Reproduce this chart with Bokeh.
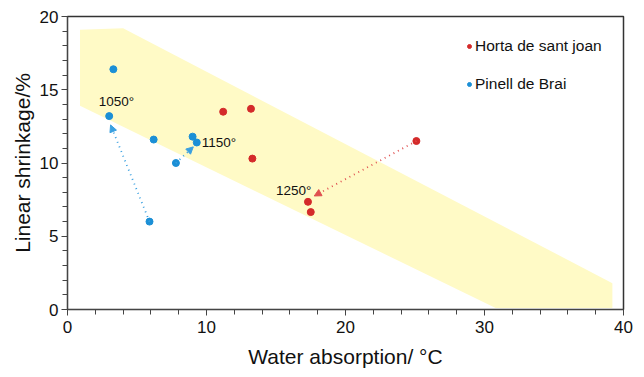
from bokeh.plotting import figure
from bokeh.models import Range1d, Legend, LegendItem, FixedTicker, Arrow, NormalHead
from bokeh.embed import file_html
from bokeh.resources import INLINE
from bokeh.core.properties import value

# Data
horta_x = [11.2, 13.2, 13.3, 25.1, 17.3, 17.5]
horta_y = [13.5, 13.7, 10.3, 11.5, 7.35, 6.65]
pinell_x = [3.3, 3.0, 6.2, 9.0, 9.3, 7.8, 5.9]
pinell_y = [16.4, 13.2, 11.6, 11.8, 11.4, 10.0, 6.0]
band_x = [0.9, 4.0, 39.2, 39.2, 30.8, 0.9]
band_y = [19.1, 19.2, 1.8, 0.1, 0.1, 13.9]
arrow_x0 = [5.9, 7.8, 25.1]
arrow_y0 = [6.0, 10.0, 11.5]
arrow_x1 = [3.1, 9.05, 17.75]
arrow_y1 = [12.6, 11.1, 7.75]
arrow_series = ["Pinell de Brai", "Pinell de Brai", "Horta de sant joan"]
temp_labels = ["1050°", "1150°", "1250°"]
temp_x = [2.25, 9.65, 15.0]
temp_y = [14.2, 11.4, 8.15]

RED = "#d42a2a"
BLUE = "#1b8fd6"
ARROW_COL = {"Pinell de Brai": "#3aa0e0", "Horta de sant joan": "#e05050"}
FONT = "Liberation Sans"

p = figure(width=644, height=377, output_backend="svg", toolbar_location=None,
           x_range=Range1d(0, 40), y_range=Range1d(0, 20),
           min_border_left=67, min_border_right=21, min_border_top=16, min_border_bottom=68)
p.background_fill_color = "white"
p.border_fill_color = "white"
p.outline_line_color = "#333333"
p.outline_line_width = 1.5
p.xgrid.visible = False
p.ygrid.visible = False

p.patch(band_x, band_y, fill_color="#fffac6", line_color=None)

for x0, y0, x1, y1, s in zip(arrow_x0, arrow_y0, arrow_x1, arrow_y1, arrow_series):
    c = ARROW_COL[s]
    p.add_layout(Arrow(end=NormalHead(size=7, fill_color=c, line_color=c),
                       x_start=x0, y_start=y0, x_end=x1, y_end=y1,
                       line_color=c, line_width=1.8, line_dash="1 4"))

p.scatter(horta_x, horta_y, size=7, color=RED)
p.scatter(pinell_x, pinell_y, size=7, color=BLUE)

p.text(temp_x, temp_y, text=temp_labels, text_font=value(FONT), text_font_size="13.5px",
       text_align="left", text_baseline="middle", text_color="#111111")

# Legend with small markers
lh = p.scatter([-10], [-10], size=5, color=RED)
lp = p.scatter([-10], [-10], size=5, color=BLUE)
legend = Legend(items=[LegendItem(label="Horta de sant joan", renderers=[lh]),
                       LegendItem(label="Pinell de Brai", renderers=[lp])],
                location=(397, 216), border_line_color=None, background_fill_alpha=0,
                label_text_font=FONT, label_text_font_size="15.5px",
                label_text_color="#111111",
                glyph_width=10, glyph_height=10, spacing=20, label_standoff=1,
                padding=0, margin=0)
p.add_layout(legend, "center")

for ax in (p.xaxis[0], p.yaxis[0]):
    ax.axis_line_color = "#444444"
    ax.major_tick_line_color = "#444444"
    ax.minor_tick_line_color = "#444444"
    ax.major_tick_out = 6
    ax.major_tick_in = 0
    ax.minor_tick_out = 5
    ax.minor_tick_in = 0
    ax.major_label_text_font = FONT
    ax.major_label_text_font_size = "17px"
    ax.major_label_text_color = "#111111"
    ax.axis_label_text_font = FONT
    ax.axis_label_text_font_size = "21px"
    ax.axis_label_text_font_style = "normal"
    ax.axis_label_text_color = "#111111"

p.xaxis.ticker = FixedTicker(ticks=[0, 10, 20, 30, 40], minor_ticks=list(range(0, 41, 2)))
p.yaxis.ticker = FixedTicker(ticks=[0, 5, 10, 15, 20], minor_ticks=list(range(0, 21, 1)))
p.xaxis.axis_label = "Water absorption/ °C"
p.yaxis.axis_label = "Linear shrinkage/%"
p.xaxis.major_label_standoff = 5
p.yaxis.major_label_standoff = 3
p.xaxis.axis_label_standoff = 9
p.yaxis.axis_label_standoff = 3

open("out.html", "w").write(file_html(p, INLINE))
